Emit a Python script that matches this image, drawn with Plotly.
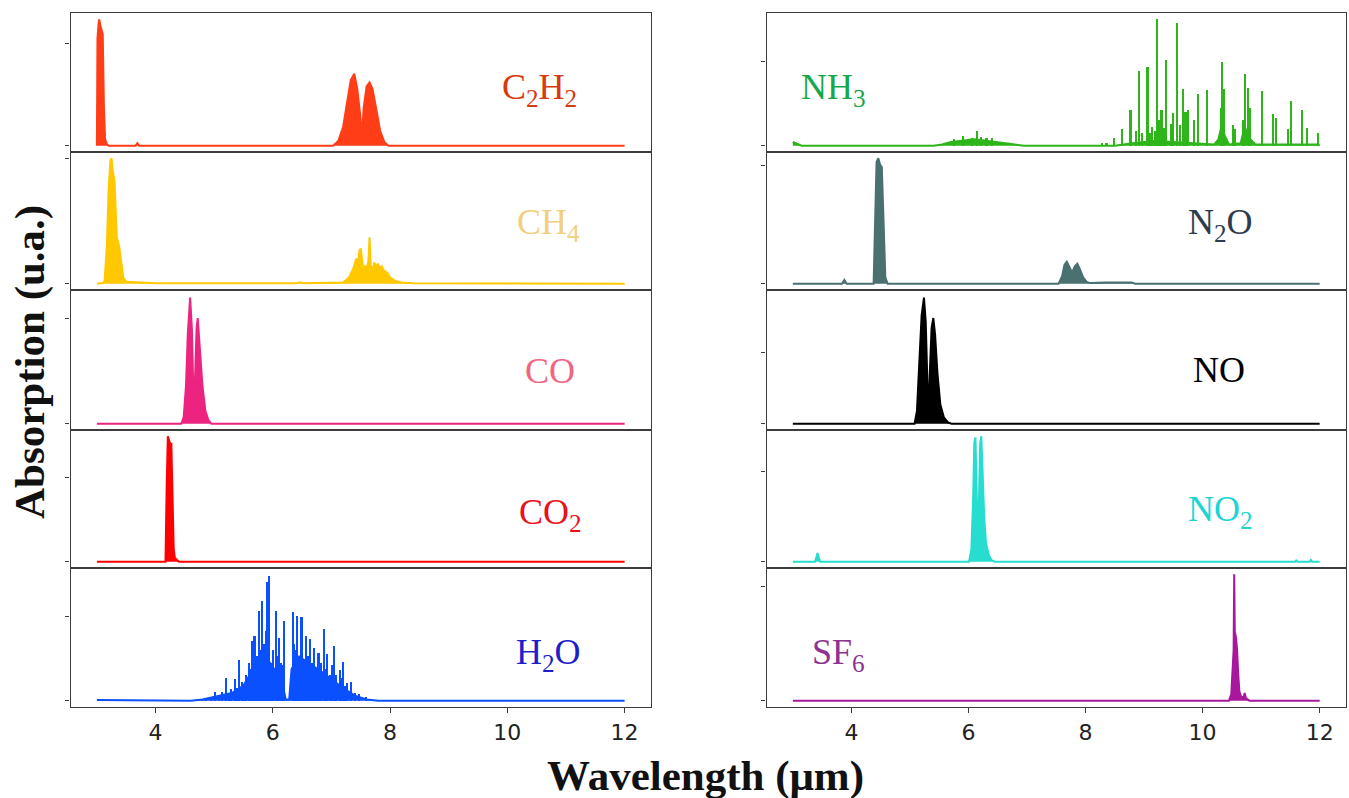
import plotly.graph_objects as go

# ---------------- DATA (normalised absorption) -------------
x_ticks = [4, 6, 8, 10, 12]
x_tick_labels = ["4", "6", "8", "10", "12"]

gas_names = ["C<sub>2</sub>H<sub>2</sub>", "CH<sub>4</sub>", "CO", "CO<sub>2</sub>", "H<sub>2</sub>O",
             "NH<sub>3</sub>", "N<sub>2</sub>O", "NO", "NO<sub>2</sub>", "SF<sub>6</sub>"]

# second (unlabelled) y tick of each panel
y_tick_second = [0.81, 1.0, 0.825, 0.67, 0.67, 0.665, 0.945, 0.56, 0.72, 0.9]

# band envelopes (wavelength um, absorption)
c2h2_x = [3.0, 3.01, 3.03, 3.04, 3.06, 3.08, 3.1, 3.12, 3.14, 3.17, 3.2, 3.66, 3.69, 3.72,
          7.03, 7.12, 7.2, 7.27, 7.33, 7.39, 7.44, 7.49, 7.52, 7.55, 7.6, 7.65, 7.7, 7.76, 7.83, 7.9, 7.97, 12.0]
c2h2_y = [0.0, 0.85, 0.97, 1.0, 0.95, 0.92, 0.88, 0.3, 0.05, 0.01, 0.0, 0.0, 0.02, 0.0,
          0.0, 0.04, 0.15, 0.35, 0.52, 0.57, 0.45, 0.25, 0.07, 0.3, 0.47, 0.5, 0.45, 0.3, 0.12, 0.03, 0.0, 0.0]

ch4_x = [3.0, 3.1, 3.13, 3.17, 3.2, 3.23, 3.25, 3.27, 3.3, 3.32, 3.34, 3.38, 3.41, 3.45, 3.5, 3.8, 4.0,
         6.4, 6.46, 6.52, 7.1, 7.2, 7.3, 7.35, 7.38, 7.42, 7.45, 7.48, 7.5, 7.52, 7.54, 7.57, 7.6, 7.63,
         7.65, 7.67, 7.7, 7.73, 7.76, 7.79, 7.82, 7.86, 7.9, 7.95, 8.0, 8.1, 8.2, 8.4, 12.0]
ch4_y = [0.0, 0.005, 0.02, 0.3, 0.75, 0.98, 1.0, 0.9, 0.82, 0.5, 0.37, 0.3, 0.17, 0.05, 0.015, 0.01, 0.003,
         0.003, 0.012, 0.003, 0.005, 0.01, 0.05, 0.1, 0.13, 0.2, 0.17, 0.27, 0.28, 0.2, 0.12, 0.14, 0.12, 0.18,
         0.37, 0.15, 0.1, 0.17, 0.13, 0.16, 0.12, 0.14, 0.1, 0.09, 0.05, 0.02, 0.01, 0.004, 0.0]

co_x = [3.0, 4.44, 4.48, 4.52, 4.55, 4.59, 4.62, 4.65, 4.67, 4.7, 4.72, 4.75, 4.8, 4.85, 4.9, 4.95, 12.0]
co_y = [0.0, 0.0, 0.05, 0.3, 0.7, 0.99, 0.75, 0.15, 0.3, 0.75, 0.83, 0.6, 0.3, 0.1, 0.03, 0.0, 0.0]

co2_x = [3.0, 4.17, 4.19, 4.21, 4.23, 4.25, 4.27, 4.29, 4.31, 4.33, 4.36, 4.4, 12.0]
co2_y = [0.0, 0.0, 0.6, 1.0, 0.97, 0.94, 0.94, 0.6, 0.1, 0.03, 0.02, 0.0, 0.0]

h2o_x = [3.0, 3.4, 3.5, 4.6, 4.8, 5.0, 5.3, 5.5, 5.6, 5.8, 5.95, 6.1, 6.18, 6.22, 6.28, 6.32,
         6.45, 6.6, 6.8, 7.0, 7.2, 7.4, 7.6, 7.8, 12.0]
h2o_y = [0.005, 0.005, 0.0, 0.0, 0.01, 0.03, 0.06, 0.12, 0.2, 0.28, 0.3, 0.2, 0.1, 0.01, 0.01, 0.25,
         0.35, 0.3, 0.24, 0.17, 0.1, 0.04, 0.01, 0.0, 0.0]

nh3_x = [3.0, 3.05, 3.1, 3.15, 5.4, 5.55, 5.7, 5.9, 6.1, 6.3, 6.5, 6.7, 6.95, 8.5, 8.8, 9.0, 9.2, 9.5,
         9.9, 10.2, 10.27, 10.32, 10.38, 10.45, 10.65, 10.72, 10.8, 10.9, 11.97, 12.0]
nh3_y = [0.03, 0.02, 0.01, 0.0, 0.0, 0.01, 0.03, 0.04, 0.05, 0.04, 0.03, 0.015, 0.0, 0.0, 0.02, 0.03,
         0.04, 0.03, 0.02, 0.01, 0.05, 0.15, 0.08, 0.01, 0.02, 0.15, 0.06, 0.01, 0.01, 0.0]

n2o_x = [3.0, 3.84, 3.88, 3.92, 4.38, 4.41, 4.43, 4.46, 4.49, 4.52, 4.55, 4.58, 4.62, 7.54, 7.6, 7.64,
         7.68, 7.72, 7.77, 7.82, 7.86, 7.9, 7.96, 8.02, 8.08, 8.34, 8.79, 8.85, 12.0]
n2o_y = [0.0, 0.0, 0.03, 0.0, 0.0, 0.5, 0.97, 1.0, 0.95, 0.93, 0.5, 0.05, 0.0, 0.0, 0.06, 0.15,
         0.175, 0.14, 0.09, 0.14, 0.16, 0.12, 0.05, 0.015, 0.005, 0.01, 0.01, 0.0, 0.0]

no_x = [3.0, 5.08, 5.12, 5.16, 5.2, 5.24, 5.27, 5.3, 5.32, 5.34, 5.37, 5.4, 5.43, 5.47, 5.52, 5.58,
        5.65, 5.71, 12.0]
no_y = [0.0, 0.0, 0.1, 0.45, 0.85, 0.99, 0.8, 0.3, 0.08, 0.4, 0.75, 0.83, 0.7, 0.4, 0.15, 0.05,
        0.01, 0.0, 0.0]

no2_x = [3.0, 3.38, 3.41, 3.42, 3.44, 3.47, 6.01, 6.05, 6.08, 6.1, 6.12, 6.14, 6.16, 6.18, 6.2, 6.22,
         6.24, 6.27, 6.3, 6.35, 6.4, 6.45, 11.58, 11.6, 11.62, 11.83, 11.85, 11.87, 12.0]
no2_y = [0.0, 0.0, 0.05, 0.07, 0.04, 0.0, 0.0, 0.1, 0.5, 0.95, 0.99, 0.6, 0.15, 0.5, 0.95, 1.0,
         0.7, 0.35, 0.15, 0.05, 0.01, 0.0, 0.0, 0.01, 0.0, 0.0, 0.015, 0.0, 0.0]

sf6_x = [3.0, 10.45, 10.49, 10.51, 10.53, 10.54, 10.55, 10.57, 10.59, 10.61, 10.63, 10.66, 10.7,
         10.72, 10.74, 10.8, 12.0]
sf6_y = [0.0, 0.0, 0.05, 0.3, 0.4, 1.0, 0.55, 0.5, 0.4, 0.2, 0.07, 0.03, 0.03, 0.06, 0.02, 0.0, 0.0]

# individual sharp lines (wavelength um, absorption)
h2o_lines_x = [4.85, 4.93, 5.01, 5.08, 5.13, 5.20, 5.24, 5.28, 5.34, 5.38, 5.41, 5.46, 5.50, 5.54, 5.58,
               5.61, 5.63, 5.66, 5.68, 5.72, 5.75, 5.78, 5.80, 5.84, 5.87, 5.89, 5.93, 5.96, 6.00, 6.04,
               6.07, 6.09, 6.13, 6.15, 6.18, 6.33, 6.35, 6.37, 6.41, 6.44, 6.48, 6.52, 6.56, 6.59, 6.62,
               6.66, 6.69, 6.73, 6.77, 6.81, 6.86, 6.89, 6.92, 6.96, 7.0, 7.03, 7.07, 7.13, 7.16, 7.19,
               7.22, 7.26, 7.33, 7.39, 7.46, 7.58]
h2o_lines_y = [0.02, 0.03, 0.07, 0.04, 0.07, 0.18, 0.06, 0.09, 0.17, 0.1, 0.32, 0.15, 0.12, 0.2, 0.30,
               0.25, 0.47, 0.33, 0.51, 0.35, 0.71, 0.4, 0.79, 0.45, 0.55, 0.94, 0.99, 0.3, 0.4, 0.71,
               0.35, 0.5, 0.3, 0.28, 0.63, 0.70, 0.45, 0.4, 0.67, 0.35, 0.66, 0.3, 0.51, 0.35, 0.49,
               0.3, 0.42, 0.25, 0.38, 0.3, 0.57, 0.25, 0.37, 0.2, 0.28, 0.43, 0.2, 0.24, 0.18, 0.31,
               0.12, 0.14, 0.15, 0.06, 0.05, 0.03]

nh3_lines_x = [5.75, 5.90, 6.05, 6.13, 6.2, 6.3, 6.4, 8.28, 8.35, 8.48, 8.61, 8.76, 8.86, 8.90, 8.95,
               9.05, 9.09, 9.12, 9.18, 9.21, 9.25, 9.29, 9.33, 9.37, 9.45, 9.48, 9.55, 9.6, 9.65, 9.70,
               9.74, 9.85, 9.91, 10.07, 10.3, 10.32, 10.36, 10.51, 10.55, 10.69, 10.72, 10.76, 10.8,
               11.0, 11.19, 11.25, 11.45, 11.5, 11.69, 11.78, 11.97]
nh3_lines_y = [0.05, 0.08, 0.06, 0.12, 0.07, 0.06, 0.06, 0.02, 0.02, 0.06, 0.13, 0.28, 0.12, 0.59, 0.1,
               0.62, 0.1, 0.15, 0.12, 1.0, 0.2, 0.28, 0.14, 0.68, 0.17, 0.26, 0.97, 0.16, 0.45, 0.27,
               0.28, 0.2, 0.41, 0.44, 0.3, 0.66, 0.45, 0.16, 0.13, 0.2, 0.57, 0.46, 0.3,
               0.43, 0.25, 0.22, 0.13, 0.35, 0.28, 0.14, 0.1]

line_colors = ["#FF3D17", "#FFC800", "#EC2480", "#FF0000", "#0A50FF",
               "#2DB51A", "#4A7070", "#000000", "#26DDD0", "#A8189E"]
label_colors = ["#D63A0E", "#F2CF7E", "#F0657F", "#E8121A", "#1F1FC9",
                "#18A84A", "#2D3B4E", "#000000", "#1ED5D5", "#8E3191"]

profiles = [(c2h2_x, c2h2_y), (ch4_x, ch4_y), (co_x, co_y), (co2_x, co2_y), (h2o_x, h2o_y),
            (nh3_x, nh3_y), (n2o_x, n2o_y), (no_x, no_y), (no2_x, no2_y), (sf6_x, sf6_y)]
sticks = {4: (h2o_lines_x, h2o_lines_y), 5: (nh3_lines_x, nh3_lines_y)}

# ---------------- LAYOUT -------------------------------------------------------------
W, H = 1349, 798
col_px = [(70.5, 651), (766.5, 1346)]
row_px = [13, 152, 290, 430, 568, 707]
# label anchors (left x, vertical centre y) in pixels
label_px = [(500, 90), (515, 224), (523, 371), (517, 514), (514, 654),
            (799, 90), (1186, 224), (1191, 370), (1186, 511), (810, 654)]

fig = go.Figure()
axis_line = "#3c3c3c"
layout = {}
annotations = []
for i in range(10):
    col, row = divmod(i, 5)
    n = i + 1
    xa = "x" if n == 1 else f"x{n}"
    ya = "y" if n == 1 else f"y{n}"
    c = line_colors[i]
    px, py = profiles[i]
    fig.add_trace(go.Scatter(x=px, y=py, mode="lines", fill="tozeroy", fillcolor=c,
                             line=dict(color=c, width=2), xaxis=xa, yaxis=ya, showlegend=False,
                             hoverinfo="skip"))
    if i in sticks:
        sx, sy = sticks[i]
        fig.add_trace(go.Bar(x=sx, y=sy, width=0.036, marker=dict(color=c, line=dict(width=0)),
                             xaxis=xa, yaxis=ya, showlegend=False, hoverinfo="skip"))
    x0, x1 = col_px[col]
    top, bot = row_px[row], row_px[row + 1]
    bottom = row == 4
    layout[f"xaxis{'' if n == 1 else n}"] = dict(
        domain=[x0 / W, x1 / W], anchor=ya, range=[2.55, 12.45],
        tickvals=x_ticks, ticktext=x_tick_labels,
        showticklabels=bottom, ticks="outside" if bottom else "", ticklen=5, tickwidth=1.3,
        tickcolor=axis_line, showline=True, mirror=True, linecolor=axis_line, linewidth=1.4,
        showgrid=False, zeroline=False,
        tickfont=dict(family="DejaVu Sans", size=22, color="#222222"))
    layout[f"yaxis{'' if n == 1 else n}"] = dict(
        domain=[1 - bot / H, 1 - top / H], anchor=xa, range=[-0.05, 1.05],
        tickvals=[0, y_tick_second[i]], showticklabels=False, ticks="outside", ticklen=4,
        tickwidth=1.3, tickcolor=axis_line, showline=True, mirror=True, linecolor=axis_line,
        linewidth=1.4, showgrid=False, zeroline=False)
    lx, ly = label_px[i]
    annotations.append(dict(text=gas_names[i], x=lx / W, y=1 - ly / H, xref="paper", yref="paper",
                            xanchor="left", yanchor="middle", showarrow=False,
                            font=dict(family="Liberation Serif", size=36, color=label_colors[i])))

annotations.append(dict(text="<b>Absorption (u.a.)</b>", x=30 / W, y=1 - 362 / H, xref="paper",
                        yref="paper", textangle=-90, showarrow=False, xanchor="center",
                        yanchor="middle", font=dict(family="Liberation Serif", size=43, color="#111")))
annotations.append(dict(text="<b>Wavelength (μm)</b>", x=705 / W, y=1 - 776 / H, xref="paper",
                        yref="paper", showarrow=False, xanchor="center", yanchor="middle",
                        font=dict(family="Liberation Serif", size=43, color="#111")))

fig.update_layout(width=W, height=H, margin=dict(l=0, r=0, t=0, b=0), paper_bgcolor="white",
                  plot_bgcolor="white", bargap=0, annotations=annotations, **layout)
fig.write_html("out.html")
